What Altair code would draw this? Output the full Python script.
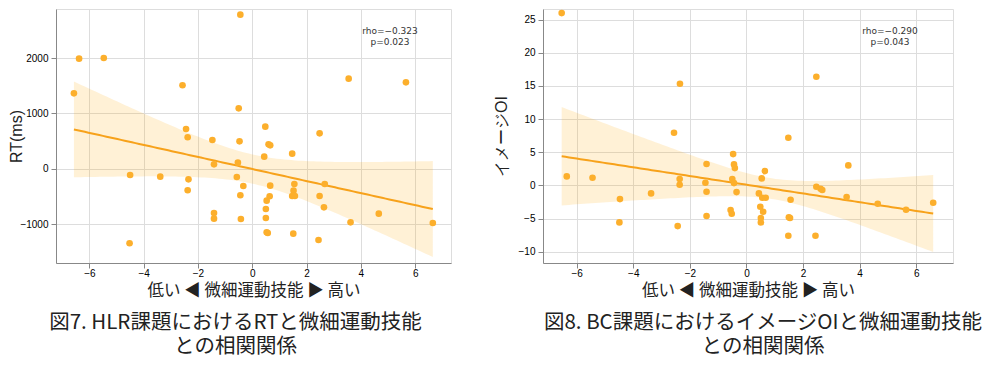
import numpy as np
import pandas as pd
import altair as alt

# ---- data ----
# Fig 7: fine motor skill vs RT(ms)
skill_rt = [-0.44, -6.38, -5.47, -6.57, -2.57, 3.55, 5.66, -0.50, -2.44, -2.38,
            0.48, 2.48, -1.47, -0.47, 0.60, 0.66, 0.44, 1.47, -1.41, -0.53,
            -4.50, -3.39, -2.35, -2.38, -0.57, -0.33, -0.44, 0.66, 0.64, 0.53,
            1.55, 1.52, 1.47, 1.57, 2.67, 2.48, 2.64, 0.50, 0.50, -1.41,
            -1.41, -0.42, 0.53, 0.57, 1.51, 2.44, -4.52, 3.62, 4.66, 6.65]
rt_ms = [2781, 1988, 2000, 1363, 1508, 1628, 1562, 1093, 721, 571,
         763, 643, 523, 498, 444, 426, 222, 276, 84, 114,
         -108, -138, -186, -384, -144, -306, -474, -300, -492, -571,
         -270, -390, -486, -486, -270, -486, -691, -721, -883, -793,
         -895, -901, -1141, -1153, -1165, -1279, -1339, -961, -805, -973]

# Fig 8: fine motor skill vs image OI
skill_oi = [-6.53, -6.35, -5.44, -2.35, -2.56, 2.47, 1.48, -4.47, -4.49, -3.37,
            -2.36, -2.36, -2.43, -1.41, -1.45, -1.41, -1.41, -0.47, -0.44, -0.41,
            -0.50, -0.44, -0.35, -0.56, -0.52, 0.54, 0.65, 0.44, 0.56, 0.68,
            0.49, 0.59, 0.51, 0.51, 1.56, 1.50, 1.54, 1.48, 2.44, 2.47,
            2.62, 2.68, 3.60, 3.54, 4.64, 5.64, 6.60]
image_oi = [25.98, 1.36, 1.16, 15.33, 7.94, 16.38, 7.19, -2.06, -5.58, -1.21,
            0.95, 0.10, -6.13, 3.22, 0.40, -0.95, -4.62, 4.72, 3.17, 2.61,
            0.95, 0.35, -1.01, -3.72, -4.27, 1.06, 2.16, -1.21, -1.86, -1.86,
            -3.22, -3.97, -4.92, -5.58, -2.16, -4.82, -4.92, -7.59, -7.59, -0.20,
            -0.50, -0.70, 3.02, -1.76, -2.76, -3.67, -2.61]

x_ticks = [-6, -4, -2, 0, 2, 4, 6]
rt_ticks = [-1000, 0, 1000, 2000]
oi_ticks = [-10, -5, 0, 5, 10, 15, 20, 25]

x_title = "低い ◀ 微細運動技能 ▶ 高い"
stats_rt = ["rho=−0.323", "p=0.023"]
stats_oi = ["rho=−0.290", "p=0.043"]
caption_rt = ["図7. HLR課題におけるRTと微細運動技能", "との相関関係"]
caption_oi = ["図8. BC課題におけるイメージOIと微細運動技能", "との相関関係"]

PT = "#FCAF2C"
LN = "#F7A21B"
BAND = "#FFA500"
JP = "Noto Sans CJK JP"
NUM = "DejaVu Sans"


def fit_table(x, y):
    """OLS fit with a 95% band from heteroscedasticity-robust (HC3) errors,
    which behaves like seaborn's bootstrap band."""
    x = np.asarray(x, float)
    y = np.asarray(y, float)
    n = len(x)
    X = np.column_stack([np.ones(n), x])
    XtX_inv = np.linalg.inv(X.T @ X)
    beta = XtX_inv @ X.T @ y
    e = y - X @ beta
    h = np.einsum("ij,jk,ik->i", X, XtX_inv, X)
    w = (e / (1 - h)) ** 2
    V = XtX_inv @ (X.T * w) @ X @ XtX_inv
    gx = np.linspace(x.min(), x.max(), 100)
    G = np.column_stack([np.ones_like(gx), gx])
    fit = G @ beta
    se = np.sqrt(np.einsum("ij,jk,ik->i", G, V, G))
    return pd.DataFrame({"gx": gx, "fit": fit, "lo": fit - 1.96 * se, "hi": fit + 1.96 * se})


def panel(x, y, xdom, ydom, yticks, ytitle, ytitle_x, stats, stats_x, caption, cap_dx, width, height):
    pts = pd.DataFrame({"x": x, "y": y})
    fit = fit_table(x, y)
    xs = alt.Scale(domain=xdom, nice=False, zero=False)
    ys = alt.Scale(domain=ydom, nice=False, zero=False)
    xax = alt.Axis(values=x_ticks, title=x_title, titleFont=JP, titleFontSize=16.5,
                   titleFontWeight="normal", titleColor="#222", titlePadding=4,
                   labelPadding=0, format="d", labelOverlap=False)
    yax = alt.Axis(values=yticks, title=ytitle, format="d", titleFontSize=16,
                   titleFontWeight="normal", titleColor="#222",
                   titleX=ytitle_x, titleY=height / 2, titleAngle=-90,
                   titleBaseline="middle", titleAlign="center", labelPadding=3,
                   labelOverlap=False)
    band = alt.Chart(fit).mark_area(color=BAND, opacity=0.16).encode(
        x=alt.X("gx:Q", scale=xs, axis=xax), y=alt.Y("lo:Q", scale=ys, axis=yax), y2="hi:Q")
    line = alt.Chart(fit).mark_line(color=LN, strokeWidth=2).encode(
        x=alt.X("gx:Q", scale=xs, axis=xax), y=alt.Y("fit:Q", scale=ys, axis=yax))
    dots = alt.Chart(pts).mark_circle(size=44, color=PT, opacity=1).encode(
        x=alt.X("x:Q", scale=xs, axis=xax), y=alt.Y("y:Q", scale=ys, axis=yax))
    note = alt.Chart(pd.DataFrame({"k": [0]})).mark_text(
        text=stats, font=NUM, fontSize=9, color="#333",
        lineHeight=11, align="center", baseline="middle").encode(
        x=alt.value(stats_x), y=alt.value(22))
    return alt.layer(band, line, dots, note).properties(
        width=width, height=height,
        title=alt.TitleParams(text=caption, orient="bottom", anchor="middle", dx=cap_dx,
                              offset=14, font=JP, fontSize=20.5, fontWeight="normal",
                              color="#222", lineHeight=24))


H = 254
left = panel(skill_rt, rt_ms, [-7.23, 7.32], [-1694, 2883], rt_ticks, "RT(ms)", -39.5,
             stats_rt, 334, caption_rt, -18, 395, H)
right = panel(skill_oi, image_oi, [-7.19, 7.30], [-11.7, 26.6], oi_ticks, "イメージOI", -42,
              stats_oi, 347, caption_oi, 15, 410, H)

chart = alt.hconcat(left, right, spacing=92, bounds="flush").properties(
    padding=0
).configure_view(
    stroke=None
).configure_axis(
    domainColor="#555", domainWidth=1.2, tickSize=0, ticks=False,
    labelFont=NUM, labelFontSize=9.5, labelColor="#444",
    titleFont=JP, gridColor="#d9d9d9", gridDash=[2, 2], gridWidth=0.8
).configure(background="white")

chart.save("out.html", embed_options={"renderer": "svg", "actions": False})
